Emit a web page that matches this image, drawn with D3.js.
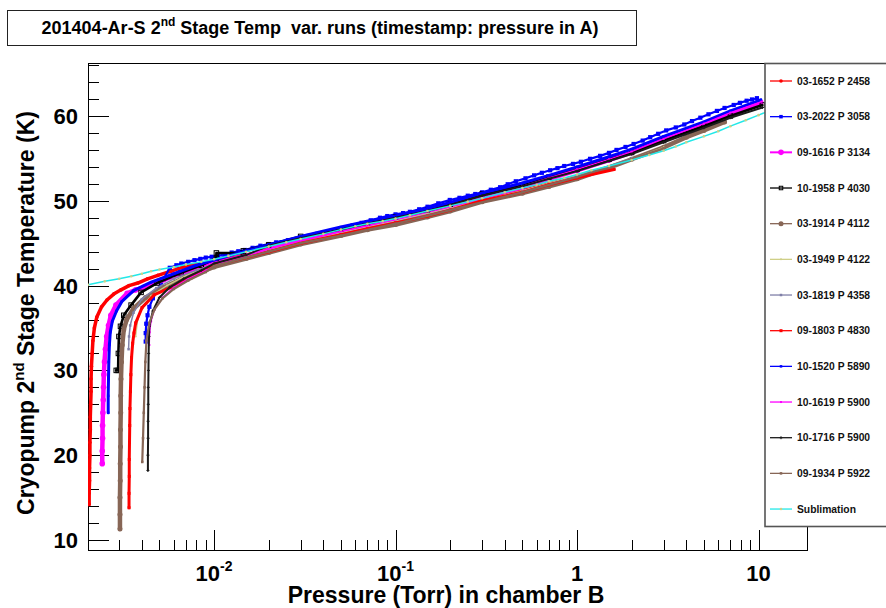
<!DOCTYPE html>
<html>
<head>
<meta charset="utf-8">
<script src="https://cdn.jsdelivr.net/npm/d3@7"></script>
<style>
body { margin: 0; background: #fff; }
text { font-family: "Liberation Sans", Arial, Helvetica, sans-serif; font-weight: bold; }
</style>
</head>
<body>
<script>
// ---- data: [pressure (Torr), temperature (K)] ----
var s03_1652 = [[0.00205,14.2],[0.00205,15.5],[0.00206,17],[0.00206,18.5],[0.00207,20],[0.00207,21.5],[0.00208,23],[0.00208,24.5],[0.00209,26],[0.0021,27.5],[0.0021,29],[0.00211,30.5],[0.00213,32],[0.00215,33.5],[0.00219,35],[0.00226,36.3],[0.0024,37.5],[0.00257,38.3],[0.0028,39],[0.00307,39.5],[0.0034,40],[0.0038,40.3],[0.0043,40.8],[0.0049,41.2],[0.0058,41.7],[0.0068,42.2],[0.008,42.5],[0.01,42.8],[0.015,43.6],[0.02,44.3],[0.03,45.3],[0.05,46.2],[0.07,46.9],[0.1,47.6],[0.15,48.4],[0.2,49.1],[0.3,50.1],[0.5,51.2],[0.7,52.0],[1,52.9],[1.5,53.9]];
var s03_2022 = [[0.0042,33.4],[0.0042,34.4],[0.00423,35.5],[0.0043,36.5],[0.0044,37.5],[0.0046,38.5],[0.0048,39.3],[0.0051,40.2],[0.0057,42.1],[0.0062,42.4],[0.0066,42.6],[0.0072,42.8],[0.0078,43.0],[0.0084,43.15],[0.009,43.3],[0.0097,43.4],[0.0105,43.5],[0.0115,43.7],[0.0125,43.9],[0.0136,44.05],[0.0148,44.2],[0.0163,44.45],[0.018,44.7],[0.02,44.9],[0.022,45.1],[0.0255,45.35],[0.0297,45.6],[0.033,45.85],[0.037,46.1],[0.041,46.3],[0.045,46.5],[0.0526,46.8],[0.058,47.1],[0.065,47.4],[0.073,47.7],[0.0821,48.0],[0.09,48.2],[0.1,48.4],[0.11,48.55],[0.12,48.7],[0.135,49.0],[0.15,49.3],[0.172,49.7],[0.199,50.1],[0.225,50.35],[0.25,50.6],[0.275,50.8],[0.3,51.0],[0.335,51.3],[0.377,51.6],[0.415,51.95],[0.46,52.3],[0.52,52.65],[0.58,53.0],[0.64,53.3],[0.711,53.6],[0.78,53.85],[0.85,54.1],[0.95,54.35],[1.05,54.6],[1.18,54.95],[1.34,55.3],[1.5,55.65],[1.65,56.0],[1.85,56.35],[2.05,56.7],[2.3,57.1],[2.53,57.5],[2.8,57.9],[3.1,58.3],[3.5,58.65],[3.9,59.0],[4.3,59.4],[4.78,59.8],[5.3,60.2],[5.9,60.6],[6.5,60.95],[7.3,61.3],[7.9,61.55],[8.6,61.8],[9.2,61.95],[9.8,62.1]];
var s09_1616 = [[0.00242,19],[0.00242,20.5],[0.00243,22],[0.00243,23.5],[0.00244,25],[0.00245,26.5],[0.00246,28],[0.00247,29.5],[0.00249,31],[0.00252,32.5],[0.00256,34],[0.00262,35.3],[0.0027,36.5],[0.00288,37.7],[0.00332,39.1],[0.0037,39.5],[0.00411,39.8],[0.0053,40.7],[0.00684,41.5],[0.0085,42.1],[0.01,42.6],[0.015,43.5],[0.02,44.2],[0.03,45.3],[0.05,46.3],[0.07,47.0],[0.1,47.7],[0.15,48.6],[0.2,49.3],[0.3,50.4],[0.5,51.6],[0.7,52.6],[1,53.6],[1.5,54.8],[2,55.7],[3,57.2],[5,59.0],[7,60.3],[10.3,61.6]];
var s10_1958 = [[0.00289,30],[0.00296,30],[0.00297,32],[0.00299,34],[0.00305,35.2],[0.00318,36.5],[0.00349,37.7],[0.00396,39.2],[0.00485,40.3],[0.00658,41.5],[0.0085,42.4],[0.0103,43.25],[0.0103,43.85],[0.0145,43.85],[0.0145,44.1],[0.02,44.8],[0.03,45.8],[0.05,46.7],[0.07,47.4],[0.1,48.1],[0.15,48.9],[0.2,49.6],[0.3,50.8],[0.5,51.8],[0.7,52.8],[1,53.7],[1.5,54.9],[2,55.7],[3,57.1],[5,58.8],[7,60.0],[10.5,61.3]];
var s03_1914 = [[0.00303,11.3],[0.00303,13],[0.00303,15],[0.00304,17],[0.00304,19],[0.00305,21],[0.00305,23],[0.00306,25],[0.00306,27],[0.00307,29],[0.00309,31],[0.00312,33],[0.00318,34.8],[0.0033,36],[0.0036,37.3],[0.0042,38.6],[0.0053,39.8],[0.0068,40.9],[0.0085,41.6],[0.01,42.2],[0.015,43.2],[0.02,43.9],[0.03,44.9],[0.05,45.9],[0.07,46.6],[0.1,47.2],[0.15,48.1],[0.2,48.8],[0.3,49.9],[0.5,50.9],[0.7,51.7],[1,52.6],[1.5,53.9],[2,54.9],[3,56.3],[4,57.5],[5,58.3],[6.5,59.3]];
var s03_1949 = [[0.0037,34],[0.0038,36],[0.004,37.5],[0.0045,38.8],[0.0055,40.0],[0.007,41.2],[0.01,42.6],[0.02,44.2],[0.05,46.2],[0.1,47.6],[0.2,49.1],[0.5,51.2],[1,53.0],[2,54.9],[3,56.3]];
var s03_1819 = [[0.00338,32.5],[0.0034,34],[0.00345,35.3],[0.0036,36.8],[0.004,38.4],[0.0048,39.7],[0.006,40.8],[0.008,41.8],[0.01,42.5],[0.02,44.1],[0.05,46.1],[0.1,47.5],[0.2,49.0],[0.5,51.1],[1,52.9],[2,55.0]];
var s09_1803 = [[0.0034,13.8],[0.0034,15.5],[0.00341,17.5],[0.00341,19.5],[0.00342,21.5],[0.00343,23.5],[0.00344,25.5],[0.00346,27.5],[0.00348,29.5],[0.00351,31.5],[0.00356,33.2],[0.00362,34.4],[0.0037,35.6],[0.00401,37.4],[0.00467,38.9],[0.0058,39.8],[0.00747,40.9],[0.01,42.4],[0.015,43.3],[0.02,44.0],[0.03,45.0],[0.05,46.0],[0.07,46.7],[0.1,47.4],[0.15,48.2],[0.2,48.9],[0.3,50.0],[0.5,51.0],[0.7,51.9],[1,52.7],[1.6,53.7]];
var s10_1520 = [[0.00261,25],[0.00261,27],[0.00262,29],[0.00263,31],[0.00265,33],[0.00268,34.5],[0.00275,35.8],[0.0029,37],[0.0031,38.1],[0.0036,39.4],[0.0045,40.4],[0.006,41.4],[0.008,42.4],[0.01,43.0],[0.015,44.1],[0.02,44.8],[0.03,45.8],[0.05,46.9],[0.07,47.6],[0.1,48.2],[0.15,49.1],[0.2,49.8],[0.3,50.9],[0.5,52.1],[0.7,53.0],[1,54.0],[1.5,55.2],[2,56.1],[3,57.6],[5,59.3],[7,60.6],[10.3,61.9]];
var s10_1619 = [[0.0044,33],[0.00442,34.5],[0.0045,35.8],[0.0047,37.2],[0.0052,38.6],[0.006,39.8],[0.0072,40.8],[0.009,41.8],[0.011,42.7],[0.015,43.5],[0.02,44.3],[0.03,45.3],[0.05,46.4],[0.07,47.1],[0.1,47.8],[0.15,48.7],[0.2,49.4],[0.3,50.5],[0.5,51.7],[0.7,52.7],[1,53.7],[1.5,54.9],[2,55.8],[3,57.3],[5,59.1],[7,60.4],[10.4,61.7]];
var s10_1716 = [[0.00432,18.2],[0.00432,20],[0.00433,22],[0.00433,24],[0.00434,26],[0.00434,28],[0.00435,30],[0.00436,32],[0.00438,34],[0.0044,35.2],[0.0046,37.0],[0.005,38.6],[0.0057,39.8],[0.0068,40.8],[0.0085,41.8],[0.01,42.6],[0.015,43.6],[0.02,44.7],[0.03,45.6],[0.05,46.6],[0.07,47.3],[0.1,48.0],[0.15,48.8],[0.2,49.5],[0.3,50.6],[0.5,51.7],[0.7,52.6],[1,53.5],[1.5,54.7],[2,55.5],[3,56.9],[5,58.6],[7,59.8],[10.5,61.0]];
var s09_1934 = [[0.00402,19.2],[0.00406,22],[0.0041,25],[0.00414,28],[0.00418,31],[0.00424,33.5],[0.0044,35.6],[0.0047,37.2],[0.0052,38.5],[0.006,39.6],[0.0072,40.6],[0.009,41.6],[0.01,42.3],[0.015,43.3],[0.02,44.0],[0.03,45.0],[0.05,45.9],[0.1,47.3],[0.2,48.9],[0.5,51.0],[1,52.8],[2,54.9],[3,56.2]];
var sublimation = [[0.00202,40.1],[0.0025,40.5],[0.003,40.8],[0.0035,41.1],[0.004,41.4],[0.0045,41.7],[0.005,41.9],[0.006,42.2],[0.007,42.5],[0.0085,42.8],[0.01,43.1],[0.012,43.5],[0.015,44.0],[0.02,44.6],[0.025,45.1],[0.03,45.5],[0.04,46.1],[0.05,46.6],[0.06,47.0],[0.07,47.3],[0.085,47.6],[0.1,47.9],[0.12,48.3],[0.15,48.8],[0.2,49.4],[0.25,49.9],[0.3,50.3],[0.4,51.0],[0.5,51.5],[0.6,51.9],[0.7,52.3],[0.85,52.7],[1,53.1],[1.2,53.6],[1.5,54.1],[2,54.8],[2.5,55.4],[3,55.9],[3.5,56.4],[4,56.9],[5,57.6],[6,58.2],[7,58.8],[8.5,59.5],[10,60.1],[12,60.8],[15,61.5],[18.5,62.2]];

var seriesNames = ["03-1652 P 2458", "03-2022 P 3058", "09-1616 P 3134", "10-1958 P 4030", "03-1914 P 4112",
    "03-1949 P 4122", "03-1819 P 4358", "09-1803 P 4830", "10-1520 P 5890", "10-1619 P 5900",
    "10-1716 P 5900", "09-1934 P 5922", "Sublimation"];
var seriesData = [s03_1652, s03_2022, s09_1616, s10_1958, s03_1914, s03_1949, s03_1819,
    s09_1803, s10_1520, s10_1619, s10_1716, s09_1934, sublimation];

var xMajorTicks = [0.01, 0.1, 1, 10];
var xTickLabels = [["10", "-2"], ["10", "-1"], ["1", ""], ["10", ""]];
var yMajorTicks = [10, 20, 30, 40, 50, 60];

// styles, one per series
var seriesColors = ["#ff0000", "#0000ff", "#ff00ff", "#000000", "#876656", "#cfcf87", "#8080a8",
    "#ff0000", "#0000ff", "#ff00ff", "#1a1a1a", "#876656", "#22e8e8"];
var markerColors = ["#ff0000", "#0000ff", "#ff00ff", "#000000", "#876656", "#cfcf87", "#8080a8",
    "#ff0000", "#0000ff", "#ff00ff", "#1a1a1a", "#876656", "#cfcf87"];
var lineWidths = [3.5, 2.2, 4.5, 2.6, 4.5, 1.2, 1.5, 3, 3, 1.2, 2, 2.2, 1.5];
var markerShapes = ["circle", "square", "circle", "opensquare", "circle", "circle", "square",
    "square", "square", "square", "plus", "square", "circle"];
var markerSizes = [1.8, 4.2, 2.8, 4.5, 2.5, 1, 2.5, 3, 2.5, 2, 3, 2.5, 1.3];

function setupSvg() {
    var width = 886, height = 608;
    var fx0 = 88, fx1 = 807, fy0 = 63, fy1 = 550;

    var svg = d3.select("body")
        .append("svg")
        .attr("width", width)
        .attr("height", height);

    var x = d3.scaleLog().domain([0.00202, 18.5]).range([fx0, fx1]);
    var y = d3.scaleLinear().domain([8.82, 66.25]).range([fy1, fy0]);

    svg.append("defs").append("clipPath").attr("id", "plotclip")
        .append("rect")
        .attr("x", fx0).attr("y", fy0)
        .attr("width", fx1 - fx0).attr("height", fy1 - fy0);

    // title box
    svg.append("rect")
        .attr("x", 7.5).attr("y", 10.5)
        .attr("width", 629).attr("height", 35)
        .attr("fill", "#fff").attr("stroke", "#222");
    var title = svg.append("text")
        .attr("x", 320).attr("y", 34)
        .attr("text-anchor", "middle")
        .style("font-size", "18px")
        .style("white-space", "pre");
    title.append("tspan").text("201404-Ar-S 2");
    title.append("tspan").attr("dy", -8).style("font-size", "12px").text("nd");
    title.append("tspan").attr("dy", 8).text(" Stage Temp  var. runs (timestamp: pressure in A)");

    // frame
    svg.append("rect")
        .attr("x", fx0 + 0.5).attr("y", fy0 + 0.5)
        .attr("width", fx1 - fx0).attr("height", fy1 - fy0)
        .attr("fill", "none").attr("stroke", "#000");

    // x ticks (inward)
    var xMinor = [];
    [0.001, 0.01, 0.1, 1, 10].forEach(function(d) {
        for (var m = 2; m <= 9; m++) {
            var v = m * d;
            if (v > x.domain()[0] && v < x.domain()[1]) xMinor.push(v);
        }
    });
    svg.append("g").selectAll("line.xminor")
        .data(xMinor)
        .enter().append("line")
        .attr("x1", function(d) { return Math.round(x(d)) + 0.5; })
        .attr("x2", function(d) { return Math.round(x(d)) + 0.5; })
        .attr("y1", fy1).attr("y2", fy1 - 10)
        .attr("stroke", "#000");
    svg.append("g").selectAll("line.xmajor")
        .data(xMajorTicks)
        .enter().append("line")
        .attr("x1", function(d) { return Math.round(x(d)) + 0.5; })
        .attr("x2", function(d) { return Math.round(x(d)) + 0.5; })
        .attr("y1", fy1).attr("y2", fy1 - 20)
        .attr("stroke", "#000");

    var xl = svg.append("g").selectAll("text")
        .data(xMajorTicks)
        .enter().append("text")
        .attr("x", function(d) { return x(d); })
        .attr("y", 581)
        .attr("text-anchor", "middle")
        .style("font-size", "22px");
    xl.append("tspan").text(function(d, i) { return xTickLabels[i][0]; });
    xl.append("tspan")
        .attr("dy", -10)
        .style("font-size", "14px")
        .text(function(d, i) { return xTickLabels[i][1]; });

    // y ticks
    var yMinor = d3.range(10, 67, 2).filter(function(v) { return v % 10 !== 0; });
    svg.append("g").selectAll("line")
        .data(yMinor)
        .enter().append("line")
        .attr("x1", fx0).attr("x2", fx0 + 11)
        .attr("y1", function(d) { return Math.round(y(d)) + 0.5; })
        .attr("y2", function(d) { return Math.round(y(d)) + 0.5; })
        .attr("stroke", "#000");
    svg.append("g").selectAll("line")
        .data(yMajorTicks)
        .enter().append("line")
        .attr("x1", fx0).attr("x2", fx0 + 21)
        .attr("y1", function(d) { return Math.round(y(d)) + 0.5; })
        .attr("y2", function(d) { return Math.round(y(d)) + 0.5; })
        .attr("stroke", "#000");
    svg.append("g").selectAll("text")
        .data(yMajorTicks)
        .enter().append("text")
        .attr("x", 78)
        .attr("y", function(d) { return y(d) + 8; })
        .attr("text-anchor", "end")
        .style("font-size", "22px")
        .text(function(d) { return d; });

    // axis titles
    svg.append("text")
        .attr("x", 446).attr("y", 603)
        .attr("text-anchor", "middle")
        .style("font-size", "23px")
        .text("Pressure (Torr) in chamber B");
    var yt = svg.append("text")
        .attr("transform", "translate(34,313) rotate(-90)")
        .attr("text-anchor", "middle")
        .style("font-size", "23px");
    yt.append("tspan").text("Cryopump 2");
    yt.append("tspan").attr("dy", -10).style("font-size", "15px").text("nd");
    yt.append("tspan").attr("dy", 10).text(" Stage Temperature (K)");

    // curves
    var line = d3.line()
        .x(function(d) { return x(d[0]); })
        .y(function(d) { return y(d[1]); });

    var plot = svg.append("g").attr("clip-path", "url(#plotclip)");

    seriesData.forEach(function(data, i) {
        var g = plot.append("g");
        g.append("path")
            .datum(data)
            .attr("d", line)
            .attr("fill", "none")
            .attr("stroke", seriesColors[i])
            .attr("stroke-width", lineWidths[i])
            .attr("stroke-linejoin", "round")
            .attr("stroke-linecap", "round");
        drawMarkers(g, data, markerShapes[i], markerSizes[i], markerColors[i],
            function(d) { return x(d[0]); }, function(d) { return y(d[1]); });
    });

    // legend
    var lg = svg.append("g");
    lg.append("rect")
        .attr("x", 765).attr("y", 63.5)
        .attr("width", 130).attr("height", 463)
        .attr("fill", "#fff")
        .attr("stroke", "#555")
        .attr("stroke-width", 1.6);
    seriesNames.forEach(function(name, i) {
        var ly = 81 + i * 35.67;
        lg.append("line")
            .attr("x1", 770).attr("x2", 792)
            .attr("y1", ly).attr("y2", ly)
            .attr("stroke", seriesColors[i])
            .attr("stroke-width", i === 2 ? 2 : 1.3);
        drawMarkers(lg, [[781, ly]], markerShapes[i], Math.min(markerSizes[i], 3.5), markerColors[i],
            function(d) { return d[0]; }, function(d) { return d[1]; });
        lg.append("text")
            .attr("x", 797).attr("y", ly + 3.7)
            .style("font-size", "10.3px")
            .attr("fill", "#111")
            .text(name);
    });
}

function drawMarkers(g, data, shape, size, color, fx, fy) {
    var sel = g.append("g").selectAll("x").data(data).enter();
    if (shape === "circle") {
        sel.append("circle")
            .attr("cx", fx).attr("cy", fy)
            .attr("r", size)
            .attr("fill", color);
    } else if (shape === "square" || shape === "opensquare") {
        sel.append("rect")
            .attr("x", function(d) { return fx(d) - size / 2; })
            .attr("y", function(d) { return fy(d) - size / 2; })
            .attr("width", size).attr("height", size)
            .attr("fill", shape === "square" ? color : "none")
            .attr("stroke", shape === "square" ? "none" : color)
            .attr("stroke-width", 1);
    } else if (shape === "plus") {
        sel.append("path")
            .attr("d", function(d) {
                var cx = fx(d), cy = fy(d), h = size / 2;
                return "M" + (cx - h) + "," + cy + "H" + (cx + h) + "M" + cx + "," + (cy - h) + "V" + (cy + h);
            })
            .attr("stroke", color)
            .attr("stroke-width", 1);
    }
}

setupSvg();
</script>
</body>
</html>
